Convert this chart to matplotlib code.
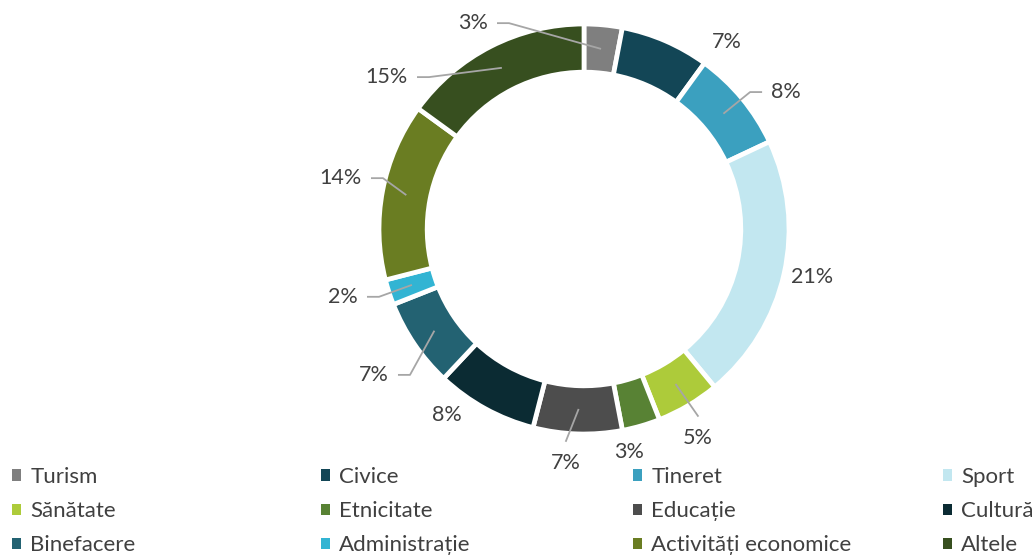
import numpy as np
import matplotlib
matplotlib.use("Agg")
import matplotlib.pyplot as plt
from matplotlib.patches import Patch

plt.rcParams['font.family'] = ['Lato', 'DejaVu Sans']

categories = ['Turism', 'Civice', 'Tineret', 'Sport', 'Sănătate', 'Etnicitate',
              'Educație', 'Cultură', 'Binefacere', 'Administrație',
              'Activități economice', 'Altele']
values = [3, 7, 8, 21, 5, 3, 7, 8, 7, 2, 14, 15]
colors = ['#7F7F7F', '#134656', '#3BA0BF', '#C2E7F0', '#ADCB3A', '#588234',
          '#4D4D4D', '#0B2B33', '#236272', '#32B4D3', '#6A7D22', '#374F1F']

# label placement: radius, angle shift from slice middle, leader style
label_r = [1.108, 1.147, 1.131, 1.137, 1.118, 1.110, 1.096, 1.127, 1.188, 1.151, 1.111, 1.134]
label_shift = [30.4, -14.0, -3.4, 0.7, -0.8, -4.8, -2.8, -7.6, 2.6, -1.3, -2.1, 22.2]
leader = ['side', None, 'side', None, 'below', None, 'below', None, 'side', 'side', 'side', 'side']

W, H = 1035, 558
cx, cy, R = 584, 229, 205
px = 1.0 / R  # one pixel in data units

fig = plt.figure(figsize=(W / 100, H / 100), dpi=100)
ax = fig.add_axes([0, 0, 1, 1])

ring = 0.235
ax.pie(values, radius=1, startangle=90, counterclock=False, colors=colors,
       wedgeprops=dict(width=ring, edgecolor='white', linewidth=3.4))
ax.set_xlim(-cx / R, (W - cx) / R)
ax.set_ylim(-(H - cy) / R, cy / R)
ax.set_aspect('equal')
ax.axis('off')

txt_color = '#404040'
line_color = '#A6A6A6'
fs = 15.5
fs_leg = 16

total = sum(values)
cum = np.cumsum([0] + values)
for i, v in enumerate(values):
    mid = 90 - 360 * (cum[i] + v / 2) / total
    ang = np.radians(mid + label_shift[i])
    tx, ty = label_r[i] * np.cos(ang), label_r[i] * np.sin(ang)
    rm = 1 - ring / 2
    sx, sy = rm * np.cos(np.radians(mid)), rm * np.sin(np.radians(mid))
    lab = f'{v}%'
    if leader[i] == 'side':
        sign = -1 if tx > 0 else 1
        ex = tx + sign * 9 * px
        elx = tx + sign * 21 * px
        ax.plot([sx, elx, ex], [sy, ty, ty], color=line_color, lw=1.3,
                solid_capstyle='butt')
        ax.text(tx, ty, lab, ha='left' if tx > 0 else 'right', va='center',
                fontsize=fs, color=txt_color)
    elif leader[i] == 'below':
        ax.plot([sx, tx], [sy, ty + 12 * px], color=line_color, lw=1.3)
        ax.text(tx, ty, lab, ha='center', va='top', fontsize=fs, color=txt_color)
    else:
        ax.text(tx, ty, lab, ha='center', va='center', fontsize=fs, color=txt_color)

# legend: 4 columns, row-major order
handles = [Patch(facecolor=c, edgecolor='none') for c in colors]
col_x = [12, 321, 633, 943]
for c in range(4):
    idx = list(range(c, len(categories), 4))
    fig.legend([handles[k] for k in idx], [categories[k] for k in idx],
               loc='upper left', bbox_to_anchor=(col_x[c] / W, 1 - 467 / H),
               frameon=False, fontsize=fs_leg, labelcolor=txt_color,
               handlelength=0.42, handleheight=0.42, handletextpad=0.4,
               labelspacing=0.64, borderpad=0, borderaxespad=0)

fig.savefig('out.png', dpi=100)
